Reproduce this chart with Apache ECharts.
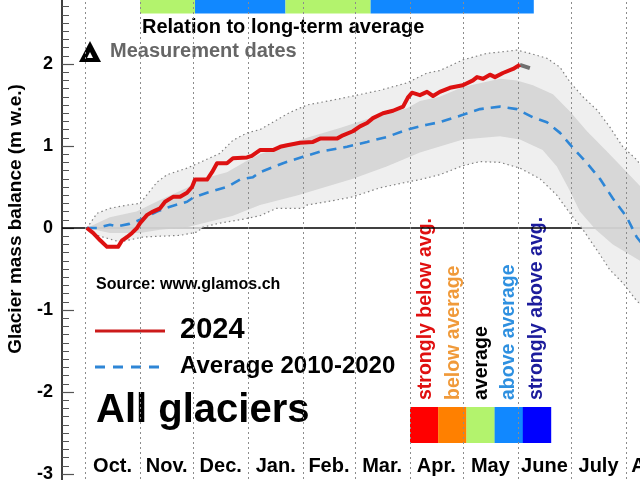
<!DOCTYPE html>
<html><head><meta charset="utf-8">
<script src="https://cdn.jsdelivr.net/npm/echarts@6/dist/echarts.min.js"></script>
<style>html,body{margin:0;padding:0;background:#fff}#c{width:640px;height:480px}</style>
</head><body><div id="c"></div>
<script>
// ---- data (x = days since 1 Oct 2023, y = m w.e.) ----
const monthNames = ['Oct.','Nov.','Dec.','Jan.','Feb.','Mar.','Apr.','May','June','July','Aug.'];
const monthLengths = [31,30,31,31,29,31,30,31,30,31,31];
const yTickValues = [-4,-3,-2,-1,0,1,2,3];

const red2024 = [[1,0],[4.5,-0.06],[8.5,-0.15],[12.4,-0.23],[18.6,-0.23],[20.9,-0.15],[23.7,-0.11],[26.5,-0.06],[29.3,0],[31,0.06],[35,0.16],[38.3,0.2],[42.3,0.24],[45.1,0.32],[49.6,0.38],[53.6,0.38],[57.5,0.43],[60.3,0.5],[62,0.59],[68.8,0.59],[71.6,0.68],[74.4,0.79],[80,0.79],[83.4,0.85],[91.3,0.86],[94,0.88],[98.6,0.95],[106,0.95],[110,0.99],[113.9,1.01],[121.2,1.04],[128.5,1.05],[132.5,1.09],[142,1.09],[145.4,1.13],[151,1.18],[155,1.24],[159,1.28],[162.3,1.34],[168,1.4],[173.6,1.43],[179.3,1.48],[182,1.59],[184.3,1.65],[188.8,1.62],[192.8,1.66],[196.2,1.61],[200,1.66],[205.7,1.71],[213,1.74],[218.7,1.8],[221,1.84],[224.4,1.82],[228.3,1.87],[231.1,1.84],[235.6,1.89],[241.3,1.94],[245.2,1.99]];
const redTail = [[245.2,1.99],[250.8,1.95]];

const average = [[1,0],[6.8,0],[14,0.04],[18,0.02],[25,0.05],[31,0.1],[40.6,0.2],[47.9,0.26],[57.5,0.32],[60.9,0.37],[68.8,0.43],[80,0.5],[87.4,0.59],[94.7,0.62],[98.6,0.68],[111.6,0.79],[122.9,0.87],[132.5,0.93],[147.7,0.99],[159,1.05],[170.2,1.11],[181.5,1.2],[192.8,1.26],[200,1.29],[213,1.38],[222.7,1.45],[234,1.48],[243.5,1.45],[252.5,1.35],[260.4,1.29],[267.8,1.16],[275,0.98],[283,0.79],[290.3,0.6],[297.6,0.36],[305.5,0.13],[311,-0.11],[318,-0.3]];

const outerUpper = [[1,0],[6.8,0.18],[14,0.24],[23.7,0.28],[31,0.3],[40.6,0.56],[46.2,0.65],[57.5,0.73],[64.8,0.8],[76,0.91],[83.4,1.07],[91.3,1.16],[98.6,1.2],[115.6,1.41],[125.1,1.5],[139.8,1.56],[153.3,1.62],[166.3,1.68],[181.5,1.77],[192.8,1.89],[200,1.92],[213,2.05],[226.6,2.13],[235.6,2.15],[243.5,2.17],[250.8,2.13],[260.4,2.07],[267.8,1.96],[273.4,1.78],[280.7,1.6],[288.6,1.44],[295.9,1.23],[303.2,0.99],[311.1,0.83],[320,0.55]];
const outerLower = [[1,0],[6.8,-0.09],[19.7,-0.17],[32.7,-0.11],[42.3,-0.1],[53.6,-0.09],[63.1,-0.05],[66.5,0.01],[76,0.06],[87.4,0.1],[98.6,0.15],[108,0.24],[122.9,0.24],[125.1,0.28],[136.4,0.32],[151,0.38],[166.3,0.49],[181.5,0.56],[188.8,0.59],[200,0.65],[213,0.76],[222.7,0.81],[234,0.8],[245.2,0.73],[256.5,0.6],[266,0.4],[273.4,0.18],[280.7,-0.02],[288.6,-0.27],[295.9,-0.51],[303.2,-0.67],[310,-0.86],[320,-1.1]];
const innerUpper = [[1,0],[14,0.13],[29,0.2],[42.3,0.34],[57.5,0.49],[64.8,0.59],[80,0.68],[91.3,0.82],[98.6,0.9],[125.1,1.1],[143.7,1.22],[162.3,1.35],[181.5,1.46],[188.8,1.55],[200,1.6],[213,1.72],[234,1.82],[243.5,1.8],[252.5,1.74],[263.8,1.63],[273.4,1.42],[283,1.18],[294.4,0.93],[305.5,0.68],[320,0.35]];
const innerLower = [[1,0],[14,-0.06],[31,-0.06],[42.3,-0.02],[57.5,0.01],[68.8,0.07],[83.4,0.15],[98.6,0.28],[120,0.4],[151,0.6],[170,0.75],[188.8,0.92],[213,1.08],[234,1.12],[245.2,1.08],[258,0.95],[266,0.75],[273.4,0.45],[279,0.2],[288,-0.02],[297.6,-0.2],[312.9,-0.4],[320,-0.5]];

// relation-to-average strip: [startDay, endDay, class]
const relationSegments = [[31,62,'average'],[62,113,'above'],[113,161,'average'],[161,253,'above']];

const classNames = ['strongly below avg.','below average','average','above average','strongly above avg.'];
const classColors = ['#ff0000','#ff8000','#b3f36d','#1188ff','#0000ff'];
const classTextColors = ['#e01010','#f09a3a','#000000','#2e90e0','#1c1c9c'];

// ---- derived ----
const monthStarts = [0];
monthLengths.forEach((l,i)=>monthStarts.push(monthStarts[i]+l));
const monthMids = monthLengths.map((l,i)=>monthStarts[i]+l/2);
const xMin = -13, xMax = 336;
const yMin = yTickValues[0], yMax = yTickValues[yTickValues.length-1];

const F = '"Liberation Sans", Arial, sans-serif';
const chart = echarts.init(document.getElementById('c'));

function bandSeries(upper, lower, fill, z){
  return {
    type:'custom', z:z, silent:true, clip:true,
    data:[[0,0]], encode:{x:0,y:1},
    renderItem:function(params, api){
      const pts = upper.map(p=>api.coord(p)).concat(lower.slice().reverse().map(p=>api.coord(p)));
      return {type:'polygon', shape:{points:pts}, style:{fill:fill, stroke:null}};
    }
  };
}
// month-boundary dotted gridlines: one custom item draws all of them
const gridSeries = {
  type:'custom', z:4, silent:true, clip:false,
  data:[[0,0]], encode:{x:0,y:1},
  renderItem:function(params, api){
    const children = monthStarts.map(function(d){
      const a = api.coord([d, yMax]), b = api.coord([d, yMin]);
      const px = Math.round(a[0]) + 0.5;
      return {type:'line', shape:{x1:px, y1:a[1], x2:px, y2:b[1]}, style:{stroke:'#8c8c8c', lineWidth:1, lineDash:[2,3], fill:null}};
    });
    return {type:'group', children:children};
  }
};
const segColor = {average: classColors[2], above: classColors[3]};

chart.setOption({
  animation:false,
  grid:{left:62, right:-41, top:-18, bottom:-76, containLabel:false, outerBoundsMode:'none'},
  xAxis:{
    type:'value', min:xMin, max:xMax, position:'bottom', offset:-100,
    axisLine:{show:false, onZero:false}, axisTick:{show:false}, splitLine:{show:false},
    axisLabel:{
      customValues: monthMids, margin:0, color:'#000', fontWeight:'bold', fontSize:20, fontFamily:F,
      formatter:function(v){ let b=0; monthMids.forEach((m,i)=>{ if(Math.abs(m-v)<Math.abs(monthMids[b]-v)) b=i; }); return monthNames[b]; }
    }
  },
  yAxis:{
    type:'value', min:yMin, max:yMax, interval:1,
    axisLine:{show:true, onZero:false, lineStyle:{color:'#000', width:1.5}},
    axisTick:{show:true, inside:true, length:12, lineStyle:{color:'#555', width:1.2}},
    minorTick:{show:true, splitNumber:10, length:7, lineStyle:{color:'#555', width:1}},
    splitLine:{show:false},
    axisLabel:{margin:9, color:'#000', fontWeight:'bold', fontSize:18, fontFamily:F}
  },
  series:[
    {type:'line', z:1, silent:true, symbol:'none', data:[[xMin,0],[xMax,0]], lineStyle:{color:'#000', width:1.5}},
    bandSeries(outerUpper, outerLower, 'rgba(236,236,236,0.82)', 2),
    bandSeries(innerUpper, innerLower, 'rgba(205,205,205,0.72)', 3),
    gridSeries,
    {type:'line', z:4, silent:true, symbol:'none', data:outerUpper, lineStyle:{color:'#808080', width:1.2, type:[1.5,3]}},
    {type:'line', z:4, silent:true, symbol:'none', data:outerLower, lineStyle:{color:'#808080', width:1.2, type:[1.5,3]}},
    {type:'line', z:5, silent:true, symbol:'none', data:average, lineStyle:{color:'#2e86d6', width:2.6, type:[10,7]}},
    {type:'line', z:6, silent:true, symbol:'none', data:redTail, lineStyle:{color:'#707070', width:4}},
    {type:'line', z:7, silent:true, symbol:'none', data:red2024, lineStyle:{color:'#dd1111', width:4, join:'round'},
      markArea:{silent:true, data: relationSegments.map(s=>[{xAxis:s[0], yAxis:2.615, itemStyle:{color:segColor[s[2]], opacity:1}},{xAxis:s[1], yAxis:3}])}}
  ],
  graphic:[
    {type:'text', x:16, y:219, rotation:Math.PI/2, style:{text:'Glacier mass balance (m w.e.)', font:'bold 19px '+F, fill:'#000', align:'center', verticalAlign:'middle'}},
    {type:'text', x:142, y:27, style:{text:'Relation to long-term average', font:'bold 20px '+F, fill:'#000', align:'left', verticalAlign:'middle'}},
    {type:'polygon', shape:{points:[[79,62],[101,62],[90,41]]}, style:{fill:'#000'}},
    {type:'polygon', shape:{points:[[87,58],[93,58],[90,52]]}, style:{fill:'#fff'}},
    {type:'text', x:110, y:51, style:{text:'Measurement dates', font:'bold 20px '+F, fill:'#666', align:'left', verticalAlign:'middle'}},
    {type:'text', x:96, y:285, style:{text:'Source: www.glamos.ch', font:'bold 16px '+F, fill:'#000', align:'left', verticalAlign:'middle'}},
    {type:'line', shape:{x1:95, y1:331, x2:165, y2:331}, style:{stroke:'#cc1a1a', lineWidth:3}},
    {type:'text', x:180, y:330, style:{text:'2024', font:'bold 29px '+F, fill:'#000', align:'left', verticalAlign:'middle'}},
    {type:'line', shape:{x1:95, y1:367, x2:165, y2:367}, style:{stroke:'#2e86d6', lineWidth:3, lineDash:[10,8]}},
    {type:'text', x:180, y:366, style:{text:'Average 2010-2020', font:'bold 24px '+F, fill:'#000', align:'left', verticalAlign:'middle'}},
    {type:'text', x:96, y:411, style:{text:'All glaciers', font:'bold 40px '+F, fill:'#000', align:'left', verticalAlign:'middle'}}
  ].concat(classNames.map((n,i)=>({type:'rect', shape:{x:410+i*28.2, y:407, width:28.4, height:36}, style:{fill:classColors[i]}})))
   .concat(classNames.map((n,i)=>({type:'text', x:426+i*27.7, y:400, rotation:Math.PI/2, style:{text:n, font:'bold 19.5px '+F, fill:classTextColors[i], align:'left', verticalAlign:'middle'}})))
});
</script></body></html>
